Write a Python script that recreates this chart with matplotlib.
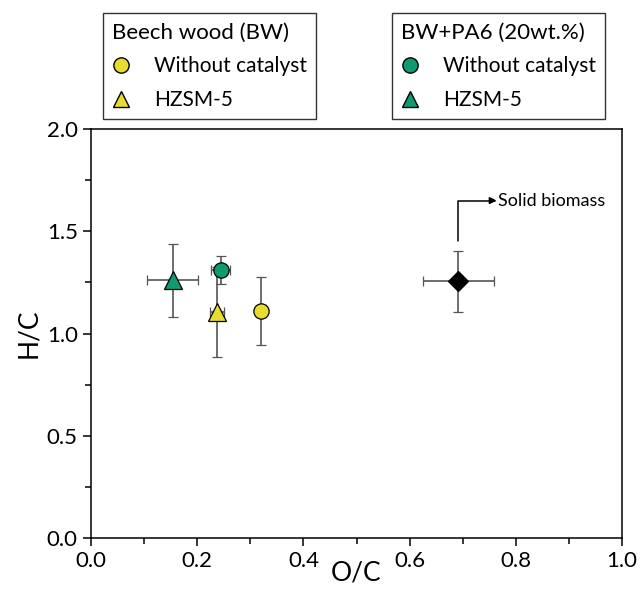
import matplotlib.pyplot as plt
from matplotlib.lines import Line2D

plt.rcParams['font.family'] = ['Lato', 'DejaVu Sans']

# samples: O/C, H/C with errors
labels = ["BW", "BW+HZSM-5", "BW+PA6", "BW+PA6+HZSM-5", "Solid biomass"]
oc = [0.321, 0.237, 0.244, 0.154, 0.692]
oc_err = [0.006, 0.013, 0.018, 0.048, 0.067]
hc = [1.11, 1.105, 1.31, 1.26, 1.255]
hc_err = [0.167, 0.22, 0.07, 0.18, 0.148]
markers = ["o", "^", "o", "^", "D"]
colors = ["#e8dd2e", "#e8dd2e", "#0f9a6f", "#0f9a6f", "black"]
sizes = [11, 13, 11, 13, 10]

fig = plt.figure(figsize=(6.42, 5.90), dpi=100)
ax = fig.add_axes([91/642, 1-538/590, 531/642, 409/590])

for i in range(len(oc)):
    ax.errorbar(oc[i], hc[i], xerr=oc_err[i], yerr=hc_err[i], fmt=markers[i],
                color=colors[i], markeredgecolor="black", markeredgewidth=0.9,
                ms=sizes[i], ecolor="#555555", elinewidth=1.2, capsize=3.5,
                capthick=1.0, zorder=3)

# annotation for solid biomass: elbow line with arrow pointing to the text
ax.annotate("", xy=(0.764, 1.65), xytext=(0.692, 1.452),
            arrowprops=dict(arrowstyle="-|>", color="black", lw=1.1,
                            connectionstyle="angle,angleA=90,angleB=0,rad=0",
                            mutation_scale=10, shrinkA=0, shrinkB=0))
ax.text(0.766, 1.65, "Solid biomass", fontsize=13, va="center", ha="left")

ax.set_xlim(0, 1.0)
ax.set_ylim(0, 2.0)
ax.set_xticks([0, 0.2, 0.4, 0.6, 0.8, 1.0])
ax.set_xticks([0.1, 0.3, 0.5, 0.7, 0.9], minor=True)
ax.set_yticks([0, 0.5, 1.0, 1.5, 2.0])
ax.set_yticks([0.25, 0.75, 1.25, 1.75], minor=True)
ax.tick_params(which="both", direction="out", labelsize=16, width=1.1)
ax.tick_params(which="major", length=6)
ax.tick_params(which="minor", length=4)
for s in ax.spines.values():
    s.set_linewidth(1.1)
ax.set_xlabel("O/C", fontsize=19, labelpad=-8)
ax.set_ylabel("H/C", fontsize=19, labelpad=4)

# two legend boxes above the axes
h_bw = [Line2D([], [], marker="o", ls="", color=colors[0], mec="black", ms=11),
        Line2D([], [], marker="^", ls="", color=colors[1], mec="black", ms=12)]
h_pa = [Line2D([], [], marker="o", ls="", color=colors[2], mec="black", ms=11),
        Line2D([], [], marker="^", ls="", color=colors[3], mec="black", ms=12)]
leg_names = ["Without catalyst", "HZSM-5"]

for handles, title, x0 in [(h_bw, "Beech wood (BW)", 103/642),
                           (h_pa, "BW+PA6 (20wt.%)", 392/642)]:
    leg = fig.legend(handles, leg_names, title=title, loc="upper left",
                     bbox_to_anchor=(x0, 1-13/590), fontsize=15,
                     title_fontsize=16, frameon=True, fancybox=False,
                     edgecolor="black", handletextpad=1.2, borderpad=0.45,
                     labelspacing=0.66, handlelength=0.8, borderaxespad=0)
    leg._legend_box.align = "left"
    leg._legend_box._children[1].sep = 10
    leg.get_frame().set_linewidth(1.0)

fig.savefig("out.png", dpi=100)
